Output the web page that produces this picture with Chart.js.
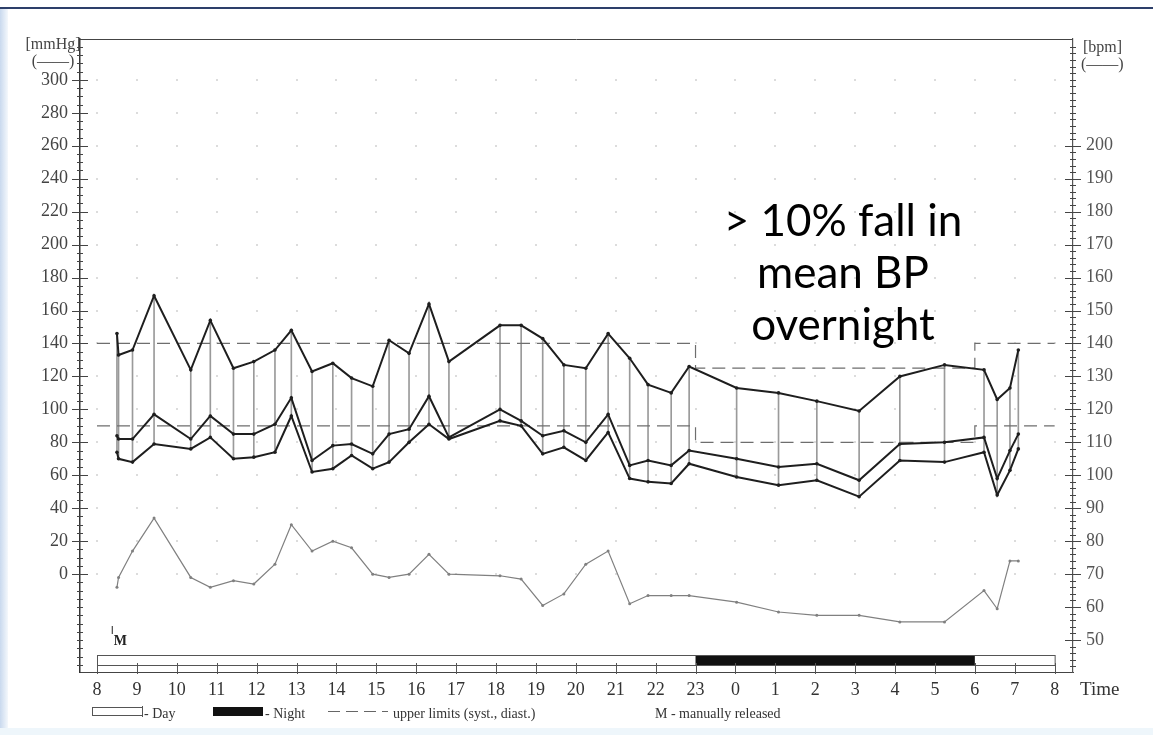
<!DOCTYPE html>
<html>
<head>
<meta charset="utf-8">
<script src="https://cdn.jsdelivr.net/npm/chart.js@4.4.1/dist/chart.umd.min.js"></script>
<style>
  html, body { margin: 0; padding: 0; background: #fff; }
  #wrap { position: relative; width: 1153px; height: 735px; }
  #edgeTop { position: absolute; left: 0; top: 7px; width: 1153px; height: 2px; background: #2d3f6a; }
  #edgeLeft { position: absolute; left: 0; top: 9px; width: 8px; height: 726px; background: linear-gradient(to right, #c9d9ee, #f4f8fc); }
  #edgeBottom { position: absolute; left: 0; top: 728px; width: 1153px; height: 7px; background: #eef6fb; }
</style>
</head>
<body>
<div id="wrap">
  <canvas id="abpmChart" width="1153" height="735"></canvas>
  <div id="edgeTop"></div>
  <div id="edgeLeft"></div>
  <div id="edgeBottom"></div>
</div>
<script>
// measurement times in hours from 8:00 (24 = midnight, 32 = 8:00 next day)
const hours = [8.5, 8.54, 8.89, 9.43, 10.35, 10.84, 11.42, 11.93, 12.46, 12.87, 13.39, 13.91, 14.38, 14.91,
  15.32, 15.82, 16.32, 16.82, 18.10, 18.63, 19.17, 19.70, 20.25, 20.81, 21.35, 21.81, 22.39, 22.84,
  24.03, 25.08, 26.04, 27.10, 28.12, 29.24, 30.23, 30.56, 30.88, 31.09];
const systolic = [146, 133, 136, 169, 124, 154, 125, 129, 136, 148, 123, 128, 119, 114,
  142, 134, 164, 129, 151, 151, 143, 127, 125, 146, 131, 115, 110, 126,
  113, 110, 105, 99, 120, 127, 124, 106, 113, 136];
const meanBP = [84, 82, 82, 97, 82, 96, 85, 85, 91, 107, 69, 78, 79, 73,
  85, 88, 108, 83, 100, 93, 84, 87, 80, 97, 66, 69, 66, 75,
  70, 65, 67, 57, 79, 80, 83, 58, 75, 85];
const diastolic = [74, 70, 68, 79, 76, 83, 70, 71, 74, 96, 62, 64, 72, 64,
  68, 80, 91, 82, 93, 90, 73, 77, 69, 86, 58, 56, 55, 67,
  59, 54, 57, 47, 69, 68, 74, 48, 63, 76];
const heartRate = [66, 69, 77, 87, 69, 66, 68, 67, 73, 85, 77, 80, 78, 70,
  69, 70, 76, 70, 69.5, 68.5, 60.5, 64, 73, 77, 61, 63.5, 63.5, 63.5,
  61.5, 58.5, 57.5, 57.5, 55.5, 55.5, 65, 59.5, 74, 74];

// upper limits (syst., diast.) - day / night
const limitTimes = [8, 23, 23, 30, 30, 32];
const systolicLimit = [140, 140, 125, 125, 140, 140];
const diastolicLimit = [90, 90, 80, 80, 90, 90];

const hourTicks = [8, 9, 10, 11, 12, 13, 14, 15, 16, 17, 18, 19, 20, 21, 22, 23, 24, 25, 26, 27, 28, 29, 30, 31, 32];
const mmHgTicks = [0, 20, 40, 60, 80, 100, 120, 140, 160, 180, 200, 220, 240, 260, 280, 300];
const bpmTicks = [50, 60, 70, 80, 90, 100, 110, 120, 130, 140, 150, 160, 170, 180, 190, 200];
const dayNight = { start: 8, nightStart: 23, nightEnd: 30, end: 32 };
const noteLines = ['> 10% fall in', 'mean BP', 'overnight'];

const pts = arr => hours.map((t, i) => ({ x: t, y: arr[i] }));
const limitPts = arr => limitTimes.map((t, i) => ({ x: t, y: arr[i] }));

const serif = 'Liberation Serif';

const decor = {
  id: 'decor',
  beforeDatasetsDraw(chart) {
    const { ctx, scales: { x, y } } = chart;
    ctx.save();
    ctx.fillStyle = '#dcdcdc';
    hourTicks.forEach(h => {
      mmHgTicks.forEach(v => {
        ctx.fillRect(Math.round(x.getPixelForValue(h)) - 1, Math.round(y.getPixelForValue(v)) - 1, 2, 2);
      });
    });
    ctx.restore();
  },
  afterDraw(chart) {
    const { ctx, chartArea: a, scales: { x, y, y1 } } = chart;
    ctx.save();
    ctx.strokeStyle = '#444';
    ctx.lineWidth = 1;

    // top frame line
    ctx.beginPath();
    ctx.moveTo(a.left, a.top + 0.5);
    ctx.lineTo(a.right, a.top + 0.5);
    ctx.stroke();

    // left axis ticks (minor every 5, major at labels)
    for (let v = -55; v <= 320; v += 5) {
      const py = Math.round(y.getPixelForValue(v)) + 0.5;
      const major = mmHgTicks.includes(v);
      ctx.beginPath();
      ctx.moveTo(a.left - (major ? 8 : 3), py);
      ctx.lineTo(a.left + (major ? 8 : 3), py);
      ctx.stroke();
    }
    // right axis ticks (minor every 2, major at labels)
    for (let v = 42; v <= 230; v += 2) {
      const py = Math.round(y1.getPixelForValue(v)) + 0.5;
      const major = bpmTicks.includes(v);
      ctx.beginPath();
      ctx.moveTo(a.right - (major ? 8 : 3), py);
      ctx.lineTo(a.right + (major ? 8 : 3), py);
      ctx.stroke();
    }

    // day / night strip
    const sx0 = x.getPixelForValue(dayNight.start);
    const sx1 = x.getPixelForValue(dayNight.end);
    const top = a.bottom - 17, bot = a.bottom - 7;
    ctx.fillStyle = '#fff';
    ctx.fillRect(sx0, top, sx1 - sx0, bot - top);
    ctx.strokeStyle = '#555';
    ctx.strokeRect(sx0 + 0.5, top + 0.5, sx1 - sx0, bot - top);
    ctx.fillStyle = '#111';
    const nx0 = x.getPixelForValue(dayNight.nightStart);
    const nx1 = x.getPixelForValue(dayNight.nightEnd);
    ctx.fillRect(nx0, top + 1, nx1 - nx0, bot - top - 1);
    hourTicks.forEach(h => {
      const px = Math.round(x.getPixelForValue(h)) + 0.5;
      ctx.beginPath();
      ctx.moveTo(px, bot - 2);
      ctx.lineTo(px, a.bottom + 2);
      ctx.stroke();
    });

    // manually released marker
    ctx.fillStyle = '#222';
    ctx.font = 'bold 14px ' + serif;
    ctx.textAlign = 'left';
    ctx.textBaseline = 'alphabetic';
    ctx.fillText('M', x.getPixelForValue(8.42), a.bottom - 27);
    ctx.fillRect(x.getPixelForValue(8.42) - 2, a.bottom - 46, 1, 8);

    // unit labels
    ctx.fillStyle = '#444';
    ctx.font = '16px ' + serif;
    ctx.textAlign = 'center';
    ctx.fillText('[mmHg]', 53, 49);
    ctx.fillText('(\u2014\u2014)', 53, 66);
    ctx.textAlign = 'left';
    ctx.fillText('[bpm]', 1083, 52);
    ctx.fillText('(\u2014\u2014)', 1081, 69);

    // x axis title
    ctx.font = '19px ' + serif;
    ctx.fillStyle = '#333';
    ctx.fillText('Time', 1080, 695);

    // legend
    const ly = 713;
    ctx.font = '14px ' + serif;
    ctx.strokeStyle = '#555';
    ctx.strokeRect(92.5, ly - 5.5, 50, 8);
    ctx.beginPath();
    ctx.moveTo(142.5, ly - 7); ctx.lineTo(142.5, ly + 4);
    ctx.stroke();
    ctx.fillStyle = '#333';
    ctx.fillText('- Day', 144, ly + 5);
    ctx.fillStyle = '#111';
    ctx.fillRect(213, ly - 6, 50, 9);
    ctx.fillStyle = '#333';
    ctx.fillText('- Night', 265, ly + 5);
    ctx.strokeStyle = '#666';
    ctx.setLineDash([12, 6]);
    ctx.beginPath();
    ctx.moveTo(328, ly - 1.5); ctx.lineTo(388, ly - 1.5);
    ctx.stroke();
    ctx.setLineDash([]);
    ctx.fillText('upper limits (syst., diast.)', 393, ly + 5);
    ctx.fillText('M - manually released', 655, ly + 5);

    // annotation
    ctx.fillStyle = '#000';
    ctx.font = '44px Lato';
    ctx.textAlign = 'center';
    noteLines.forEach((s, i) => ctx.fillText(s, 843, 236 + i * 52));
    ctx.restore();
  }
};

const lineStyle = (color, width) => ({
  type: 'line',
  borderColor: color,
  backgroundColor: color,
  borderWidth: width,
  pointRadius: 1.8,
  pointBorderWidth: 0,
  tension: 0,
  order: 1
});

new Chart(document.getElementById('abpmChart').getContext('2d'), {
  type: 'line',
  data: {
    datasets: [
      Object.assign(lineStyle('#1e1e1e', 2), { data: pts(systolic), yAxisID: 'y' }),
      Object.assign(lineStyle('#1e1e1e', 2), { data: pts(meanBP), yAxisID: 'y' }),
      Object.assign(lineStyle('#1e1e1e', 2), { data: pts(diastolic), yAxisID: 'y' }),
      Object.assign(lineStyle('#808080', 1.2), { data: pts(heartRate), yAxisID: 'y1', pointRadius: 1.5 }),
      {
        type: 'bar',
        data: hours.map((t, i) => ({ x: t, y: [diastolic[i], systolic[i]] })),
        backgroundColor: '#9a9a9a',
        barThickness: 1,
        yAxisID: 'y',
        order: 10
      },
      {
        type: 'line',
        data: limitPts(systolicLimit),
        borderColor: '#6e6e6e',
        borderWidth: 1.2,
        borderDash: [13, 7],
        pointRadius: 0,
        yAxisID: 'y',
        order: 9
      },
      {
        type: 'line',
        data: limitPts(diastolicLimit),
        borderColor: '#6e6e6e',
        borderWidth: 1.2,
        borderDash: [13, 7],
        pointRadius: 0,
        yAxisID: 'y',
        order: 9
      }
    ]
  },
  options: {
    responsive: false,
    animation: false,
    layout: { padding: { top: 39, left: 0, right: 0, bottom: 0 } },
    plugins: {
      legend: { display: false },
      tooltip: { enabled: false }
    },
    scales: {
      x: {
        type: 'linear',
        min: 7.574,
        max: 32.46,
        offset: false,
        afterBuildTicks: s => { s.ticks = hourTicks.map(v => ({ value: v })); },
        afterFit: s => { s.height = 63; },
        grid: { display: false, drawTicks: false },
        border: { display: true, color: '#444', width: 1 },
        ticks: {
          autoSkip: false,
          maxRotation: 0,
          padding: 7,
          color: '#333',
          font: { family: serif, size: 18 },
          callback: v => v % 24
        }
      },
      y: {
        type: 'linear',
        position: 'left',
        min: -59.4,
        max: 324.8,
        afterBuildTicks: s => { s.ticks = mmHgTicks.map(v => ({ value: v })); },
        afterFit: s => { s.width = 80; },
        grid: { display: false, drawTicks: false },
        border: { display: true, color: '#333', width: 1.5 },
        ticks: { padding: 12, color: '#444', font: { family: serif, size: 18 } }
      },
      y1: {
        type: 'linear',
        position: 'right',
        min: 40.3,
        max: 232.4,
        afterBuildTicks: s => { s.ticks = bpmTicks.map(v => ({ value: v })); },
        afterFit: s => { s.width = 80; },
        grid: { display: false, drawTicks: false },
        border: { display: true, color: '#555', width: 1.2 },
        ticks: { padding: 13, color: '#555', font: { family: serif, size: 18 } }
      }
    }
  },
  plugins: [decor]
});
</script>
</body>
</html>
